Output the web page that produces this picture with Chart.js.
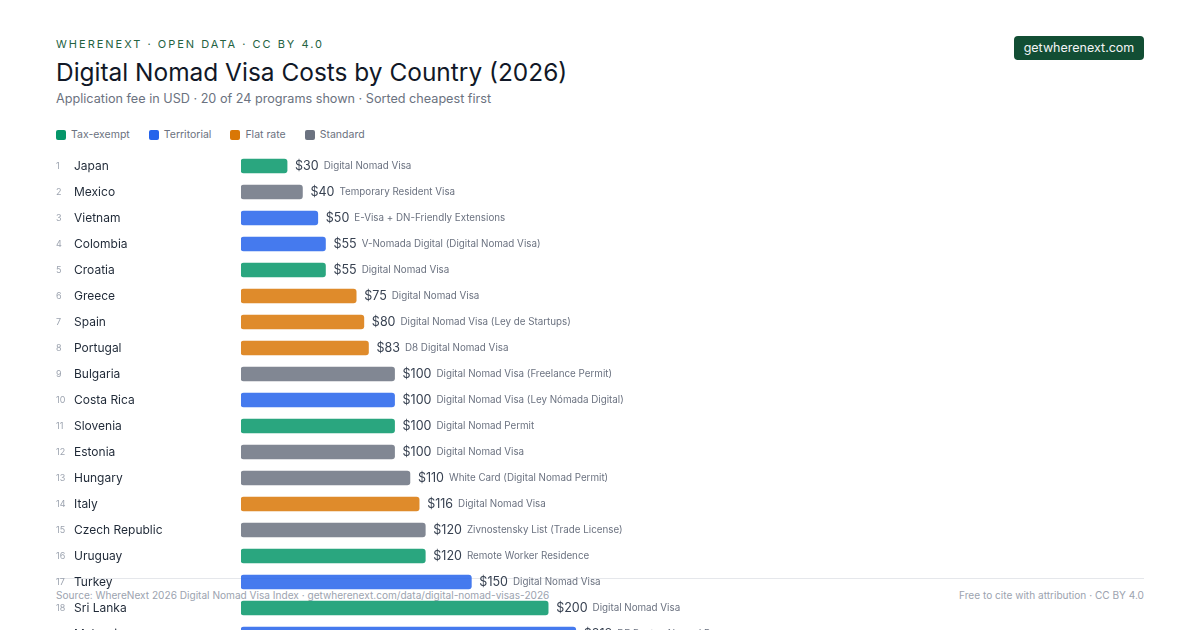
<!DOCTYPE html>
<html>
<head>
<meta charset="utf-8">
<script src="https://cdn.jsdelivr.net/npm/chart.js@4/dist/chart.umd.min.js"></script>
<style>
  html, body { margin: 0; padding: 0; }
  body { width: 1200px; height: 630px; overflow: hidden; background: #fff; position: relative; font-family: Inter, "Noto Sans", sans-serif; }
  .kicker { position: absolute; left: 56px; top: 37px; font-size: 11px; letter-spacing: 2px; color: #24623f; font-weight: 400; }
  .title { position: absolute; left: 56px; top: 57px; font-size: 24.45px; color: #111827; font-weight: 400; }
  .sub { position: absolute; left: 56px; top: 91px; font-size: 12.65px; color: #6b7280; }
  .badge { position: absolute; left: 1014px; top: 36px; width: 130px; height: 24px; line-height: 24px; text-align: center; background: #124e34; color: #f3f4f6; font-size: 12.5px; border-radius: 4px; }
  .legend { position: absolute; left: 56px; top: 128px; display: flex; font-size: 10.5px; color: #6b7280; }
  .legend span { display: flex; align-items: center; margin-right: 19px; }
  .legend i { display: inline-block; width: 10px; height: 10px; border-radius: 2px; margin-right: 5px; }
  .footer { position: absolute; left: 56px; top: 578px; width: 1088px; border-top: 1px solid #e5e7eb; font-size: 10.1px; color: #9ca3af; }
  .footer .l { position: absolute; left: 0; top: 10px; }
  .footer .r { position: absolute; right: 0; top: 10px; }
  #wrap { position: absolute; left: 0; top: 153px; width: 1200px; height: 494px; z-index: 2; }
</style>
</head>
<body>
<div class="kicker">WHERENEXT · OPEN DATA · CC BY 4.0</div>
<div class="title">Digital Nomad Visa Costs by Country (2026)</div>
<div class="sub">Application fee in USD · 20 of 24 programs shown · Sorted cheapest first</div>
<div class="badge">getwherenext.com</div>
<div class="legend" id="legend"></div>
<div class="footer">
  <div class="l">Source: WhereNext  2026 Digital Nomad Visa Index · getwherenext.com/data/digital-nomad-visas-2026</div>
  <div class="r">Free to cite with attribution · CC BY 4.0</div>
</div>
<div id="wrap"><canvas id="chart" width="1200" height="494"></canvas></div>
<script>
const countries = ['Japan', 'Mexico', 'Vietnam', 'Colombia', 'Croatia', 'Greece', 'Spain', 'Portugal',
  'Bulgaria', 'Costa Rica', 'Slovenia', 'Estonia', 'Hungary', 'Italy', 'Czech Republic', 'Uruguay',
  'Turkey', 'Sri Lanka', 'Malaysia'];
const fees = [30, 40, 50, 55, 55, 75, 80, 83, 100, 100, 100, 100, 110, 116, 120, 120, 150, 200, 218];
const taxTypes = ['Tax-exempt', 'Standard', 'Territorial', 'Territorial', 'Tax-exempt', 'Flat rate', 'Flat rate', 'Flat rate',
  'Standard', 'Territorial', 'Tax-exempt', 'Standard', 'Standard', 'Flat rate', 'Standard', 'Tax-exempt',
  'Territorial', 'Tax-exempt', 'Territorial'];
const programs = ['Digital Nomad Visa', 'Temporary Resident Visa', 'E-Visa + DN-Friendly Extensions',
  'V-Nomada Digital (Digital Nomad Visa)', 'Digital Nomad Visa', 'Digital Nomad Visa',
  'Digital Nomad Visa (Ley de Startups)', 'D8 Digital Nomad Visa', 'Digital Nomad Visa (Freelance Permit)',
  'Digital Nomad Visa (Ley Nómada Digital)', 'Digital Nomad Permit', 'Digital Nomad Visa',
  'White Card (Digital Nomad Permit)', 'Digital Nomad Visa', 'Zivnostensky List (Trade License)',
  'Remote Worker Residence', 'Digital Nomad Visa', 'Digital Nomad Visa', 'DE Rantau Nomad Pass'];
const legendTypes = ['Tax-exempt', 'Territorial', 'Flat rate', 'Standard'];

const typeColors = {
  'Tax-exempt': [5, 150, 105],
  'Territorial': [37, 99, 235],
  'Flat rate': [217, 119, 6],
  'Standard': [107, 114, 128]
};
const rgba = (c, a) => `rgba(${c[0]},${c[1]},${c[2]},${a})`;

// legend
const legendEl = document.getElementById('legend');
legendTypes.forEach(t => {
  const s = document.createElement('span');
  s.innerHTML = `<i style="background:${rgba(typeColors[t], 1)}"></i>${t}`;
  legendEl.appendChild(s);
});

const FONT = 'Inter, "Noto Sans", sans-serif';

// rank, country, value and programme name next to each bar
const rowLabels = {
  id: 'rowLabels',
  afterDatasetsDraw(chart) {
    const ctx = chart.ctx;
    const meta = chart.getDatasetMeta(0);
    ctx.save();
    ctx.textBaseline = 'middle';
    meta.data.forEach((bar, i) => {
      const y = bar.y;
      ctx.font = `9px ${FONT}`;
      ctx.fillStyle = '#9ca3af';
      ctx.fillText(String(i + 1), 56, y + 0.5);
      ctx.font = `12px ${FONT}`;
      ctx.fillStyle = '#1f2937';
      ctx.fillText(countries[i], 74, y);
      const vx = bar.x + 8;
      const vText = '$' + fees[i];
      ctx.font = `12.5px ${FONT}`;
      ctx.fillStyle = '#374151';
      ctx.fillText(vText, vx, y);
      const w = ctx.measureText(vText).width;
      ctx.font = `9.8px ${FONT}`;
      ctx.fillStyle = '#6b7280';
      ctx.fillText(programs[i], vx + w + 5, y + 0.5);
    });
    ctx.restore();
  }
};

new Chart(document.getElementById('chart'), {
  type: 'bar',
  data: {
    labels: countries,
    datasets: [{
      data: fees,
      backgroundColor: taxTypes.map(t => rgba(typeColors[t], 0.85)),
      barThickness: 14,
      borderRadius: 3,
      borderSkipped: false
    }]
  },
  options: {
    indexAxis: 'y',
    responsive: false,
    animation: false,
    layout: { padding: { left: 241, right: 56, top: 0, bottom: 0 } },
    scales: {
      x: { display: false, min: 0, max: 588 },
      y: { display: false }
    },
    plugins: { legend: { display: false }, tooltip: { enabled: false } }
  },
  plugins: [rowLabels]
});
</script>
</body>
</html>
